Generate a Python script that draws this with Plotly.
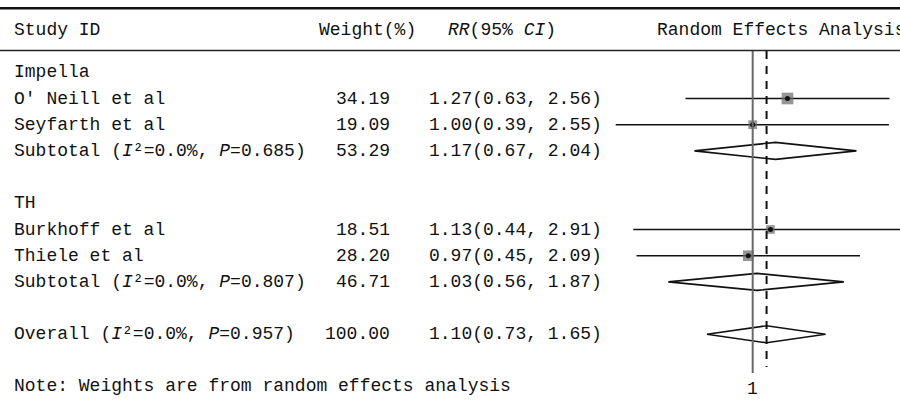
import plotly.graph_objects as go
import math

# ---------------- data ----------------
group_labels = ["Impella", "TH"]
group_rows = [0, 5]

study_labels = ["O′ Neill et al", "Seyfarth et al", "Burkhoff et al", "Thiele et al"]
study_rows = [1, 2, 6, 7]
study_weight = [34.19, 19.09, 18.51, 28.20]
study_rr = [1.27, 1.00, 1.13, 0.97]
study_lo = [0.63, 0.39, 0.44, 0.45]
study_hi = [2.56, 2.55, 2.91, 2.09]

pooled_labels = [
    "Subtotal (<i>I</i>²=0.0%, <i>P</i>=0.685)",
    "Subtotal (<i>I</i>²=0.0%, <i>P</i>=0.807)",
    "Overall (<i>I</i>²=0.0%, <i>P</i>=0.957)",
]
pooled_rows = [3, 8, 10]
pooled_weight = [53.29, 46.71, 100.00]
pooled_rr = [1.17, 1.03, 1.10]
pooled_lo = [0.67, 0.56, 0.73]
pooled_hi = [2.04, 1.87, 1.65]

header_labels = ["Study ID", "Weight(%)", "<i>RR</i>(95% <i>CI</i>)", "Random Effects Analysis"]
note_text = "Note: Weights are from random effects analysis"
null_value = 1
null_label = "1"

# ---------------- layout helpers ----------------
W, H = 900, 401
FONT = "Liberation Mono"
FS = 18
ROW0 = 72.3      # pixel y of row 0
ROWH = 26.2      # pixel height of a row


def py2row(p):
    return (p - ROW0) / ROWH


def px(x):
    return x / W


def py(y):
    return 1 - y / H


# x axis: log scale, value 1 at pixel 752.7, 145.5 px per ln unit
X1 = 752.7
K = 145.5
xr = [(-X1 / K) / math.log(10), ((W - X1) / K) / math.log(10)]
yr = [py2row(H), py2row(0)]

fig = go.Figure()

# CI lines for studies
for r, lo, hi in zip(study_rows, study_lo, study_hi):
    fig.add_trace(go.Scatter(x=[lo, hi], y=[r, r], mode="lines",
                             line=dict(color="#111111", width=1.6),
                             hoverinfo="skip", showlegend=False))

# weight squares
fig.add_trace(go.Scatter(
    x=study_rr, y=study_rows, mode="markers",
    marker=dict(symbol="square", color="#6a6a6a",
                size=[2.0 * math.sqrt(w) for w in study_weight],
                line=dict(width=0)),
    hoverinfo="skip", showlegend=False))
fig.add_trace(go.Scatter(
    x=study_rr, y=study_rows, mode="markers",
    marker=dict(symbol="circle", color="#111111", size=5, line=dict(width=0)),
    hoverinfo="skip", showlegend=False))

# diamonds
DH = 8.5 / ROWH
for r, est, lo, hi in zip(pooled_rows, pooled_rr, pooled_lo, pooled_hi):
    fig.add_trace(go.Scatter(
        x=[lo, est, hi, est, lo], y=[r, r - DH, r, r + DH, r],
        mode="lines", fill="toself", fillcolor="rgba(255,255,255,0)",
        line=dict(color="#111111", width=1.6),
        hoverinfo="skip", showlegend=False))

shapes = []
# null line (solid, grey)
shapes.append(dict(type="line", xref="x", yref="y", x0=null_value, x1=null_value,
                   y0=py2row(50.5), y1=py2row(373), line=dict(color="#6a6a6a", width=2)))
# overall estimate line (dashed)
shapes.append(dict(type="line", xref="x", yref="y", x0=pooled_rr[-1], x1=pooled_rr[-1],
                   y0=py2row(51), y1=py2row(367),
                   line=dict(color="#111111", width=2, dash="8px,7px")))
# horizontal rules
shapes.append(dict(type="line", xref="paper", yref="paper", x0=0, x1=1,
                   y0=py(8.3), y1=py(8.3), line=dict(color="#111111", width=2.5)))
shapes.append(dict(type="line", xref="paper", yref="paper", x0=0, x1=1,
                   y0=py(50.5), y1=py(50.5), line=dict(color="#222222", width=1.5)))

ann = []
tf = dict(family=FONT, size=FS, color="#111111")


def add_text(text, x, y, anchor, yref="y"):
    ann.append(dict(text=text, x=x, y=y, xref="paper", yref=yref, xanchor=anchor,
                    yanchor="middle", showarrow=False, font=tf))


# headers
hy = py(30)
add_text(header_labels[0], px(12), hy, "left", "paper")
add_text(header_labels[1], px(367), hy, "center", "paper")
add_text(header_labels[2], px(502), hy, "center", "paper")
add_text(header_labels[3], px(655), hy, "left", "paper")

for lab, r in zip(group_labels, group_rows):
    add_text(lab, px(12), r, "left")
for lab, r, w, est, lo, hi in zip(study_labels, study_rows, study_weight, study_rr, study_lo, study_hi):
    add_text(lab, px(12), r, "left")
    add_text(f"{w:.2f}", px(392), r, "right")
    add_text(f"{est:.2f}({lo:.2f}, {hi:.2f})", px(427), r, "left")
for lab, r, w, est, lo, hi in zip(pooled_labels, pooled_rows, pooled_weight, pooled_rr, pooled_lo, pooled_hi):
    add_text(lab, px(12), r, "left")
    add_text(f"{w:.2f}", px(392), r, "right")
    add_text(f"{est:.2f}({lo:.2f}, {hi:.2f})", px(427), r, "left")

add_text(note_text, px(12), py(386), "left", "paper")
# tick label for the null line (annotation x on a log axis is given in log10 units)
ann.append(dict(text=null_label, x=math.log10(null_value), y=py2row(389), xref="x", yref="y",
                xanchor="center", yanchor="middle", showarrow=False, font=tf))

fig.update_layout(
    width=W, height=H,
    margin=dict(l=0, r=0, t=0, b=0),
    paper_bgcolor="white", plot_bgcolor="white",
    xaxis=dict(type="log", range=xr, domain=[0, 1], visible=False, fixedrange=True),
    yaxis=dict(range=yr, domain=[0, 1], visible=False, fixedrange=True),
    shapes=shapes, annotations=ann, showlegend=False,
)

fig.write_html("out.html",
               config={"displayModeBar": False},
               post_script="document.body.style.margin='0px';document.body.style.overflow='hidden';")
